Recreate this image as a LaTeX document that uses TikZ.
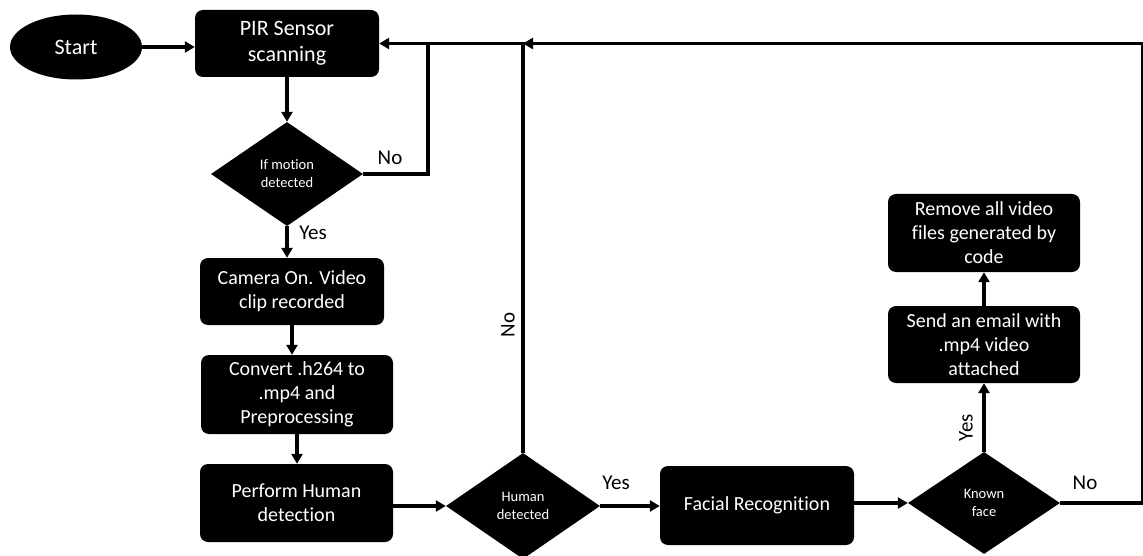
\documentclass[tikz,border=0pt]{standalone}
\usepackage{fontspec}
\setmainfont{Carlito}[Ligatures={NoCommon,NoContextual}]
\usetikzlibrary{shapes.geometric,arrows.meta}
\tikzset{
  box/.style={draw=none,fill=black,text=white,rounded corners=8pt,align=center,inner sep=0pt,
    font=\fontsize{20}{24}\selectfont},
  dec/.style={diamond,fill=black,text=white,align=center,inner sep=0pt,
    font=\fontsize{14.5}{18}\selectfont},
  term/.style={ellipse,fill=black,text=white,inner sep=0pt,font=\fontsize{22}{26}\selectfont},
  conn/.style={line width=3.5pt},
  arr/.style={conn,-{Triangle[length=10pt,width=11pt]}},
  lbl/.style={font=\fontsize{21}{24}\selectfont,inner sep=0pt}
}
\begin{document}
\begin{tikzpicture}[x=1pt,y=-1pt]
\useasboundingbox (0,0) rectangle (1143,556);
\node[term,minimum width=132pt,minimum height=65pt] (start) at (76,47) {Start};
\node[box,minimum width=184pt,minimum height=67pt,font=\fontsize{22}{26}\selectfont] (pir) at (287,43.5) {PIR Sensor\\scanning};
\node[dec,minimum width=152pt,minimum height=104pt] (motion) at (287,174) {If motion\\detected};
\node[box,minimum width=184pt,minimum height=67pt] (camera) at (292,291.5) {Camera On. Video\\clip recorded};
\node[box,minimum width=192pt,minimum height=79pt] (convert) at (297,394.5) {Convert .h264 to\\.mp4 and\\Preprocessing};
\node[box,minimum width=193pt,minimum height=78pt] (perform) at (296.5,503) {Perform Human\\detection};
\node[dec,minimum width=154pt,minimum height=106pt] (human) at (523,506) {Human\\detected};
\node[box,minimum width=194pt,minimum height=79pt] (facial) at (757,505.5) {Facial Recognition};
\node[dec,minimum width=152pt,minimum height=102pt] (known) at (984,503) {Known\\face};
\node[box,minimum width=192pt,minimum height=77pt] (send) at (984,344.5) {Send an email with\\.mp4 video\\attached};
\node[box,minimum width=192pt,minimum height=78pt] (remove) at (984,233) {Remove all video\\files generated by\\code};

\coordinate (j1) at (428,43.5);
\coordinate (j3) at (1142.5,43.5);

\draw[arr] (start.east) -- (start.east -| pir.west);
\draw[arr] (pir.south) -- (motion.north);
\draw[arr] (motion.south) -- (motion.south |- camera.north);
\draw[arr] (camera.south) -- (camera.south |- convert.north);
\draw[arr] (convert.south) -- (convert.south |- perform.north);
\draw[arr] (human.west -| perform.east) -- (human.west);
\draw[arr] (human.east) -- (human.east -| facial.west);
\draw[arr] (known.west -| facial.east) -- (known.west);
\draw[arr] (known.north) -- (send.south);
\draw[arr] (send.north) -- (remove.south);
\draw[conn] (motion.east) -| (j1);
\draw[arr] (human.north) |- (pir.east);
\draw[arr] (known.east) -| (j3) -- (human.north |- j3);

\node[lbl] (lno1) at (390,158) {No};
\node[lbl] (lyes1) at (313,233) {Yes};
\node[lbl,rotate=90] (lno2) at (508,325) {No};
\node[lbl] (lyes2) at (616,483) {Yes};
\node[lbl,rotate=90] (lyes3) at (966,428) {Yes};
\node[lbl] (lno3) at (1085,483) {No};
\end{tikzpicture}
\end{document}
